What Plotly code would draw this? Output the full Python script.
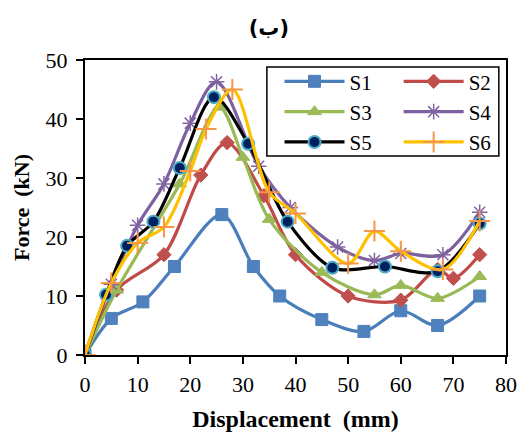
import plotly.graph_objects as go

x1 = [0, 5, 11, 17, 26, 32, 37, 45, 53, 60, 67, 75]
s1 = [0, 6.2, 9, 15, 23.8, 15, 10, 6, 4, 7.5, 5, 10]

x2 = [0, 6, 15, 22, 27, 34, 40, 50, 60, 67, 70, 75]
s2 = [0, 11, 17, 30.5, 36, 27, 17, 10, 9.3, 14.5, 13, 17]

x3 = [0, 6, 18, 25.5, 30, 35, 45, 55, 60, 67, 75]
s3 = [0, 11, 29, 42, 33.5, 23, 14, 10.2, 11.8, 9.6, 13.3]

x4 = [0, 5, 10, 15, 20, 25, 33, 39, 48, 55, 60, 68, 75]
s4 = [0, 12, 22, 29, 39.3, 46.3, 32, 25, 18.3, 16, 17.2, 17, 24.2]

x5 = [0, 4, 8, 13, 18, 24.5, 31, 38.5, 47, 57, 67, 75]
s5 = [0, 10.2, 18.5, 22.6, 31.7, 43.7, 35.8, 22.6, 14.8, 15, 14.2, 22.3]

x6 = [0, 5, 10, 15, 20, 23, 28, 35, 40, 50, 55, 60, 68, 75]
s6 = [0, 12.2, 19, 21.7, 31.2, 38.3, 45, 27.6, 24, 15.5, 21, 17.6, 14.5, 22.7]

names = ["S1", "S2", "S3", "S4", "S5", "S6"]

FONT = "Liberation Serif, Times New Roman, serif"

fig = go.Figure()

def add(x, y, name, lc, sym, mfill, mline, mlw, size, leg):
    fig.add_trace(go.Scatter(
        x=x, y=y, name=name, mode="lines+markers", legend=leg,
        line=dict(color=lc, width=3.2, shape="spline", smoothing=0.9),
        marker=dict(symbol=sym, color=mfill, size=size,
                    line=dict(color=mline, width=mlw)),
    ))

add(x1, s1, names[0], "#4A7EBB", "square", "#4F81BD", "#4F81BD", 1, 12, "legend")
add(x2, s2, names[1], "#BE4B48", "diamond", "#C0504D", "#C0504D", 1, 11, "legend2")
add(x3, s3, names[2], "#98B954", "triangle-up", "#9BBB59", "#9BBB59", 1, 12, "legend")
add(x4, s4, names[3], "#7D60A0", "asterisk-open", "#8064A2", "#8064A2", 1.5, 13, "legend2")
add(x5, s5, names[4], "#000000", "circle", "#002060", "#4BACC6", 2, 12, "legend")
add(x6, s6, names[5], "#FFC000", "cross-thin-open", "#F79646", "#F79646", 2, 15, "legend2")

axis_common = dict(
    showgrid=False, zeroline=False, showline=True, linecolor="black",
    linewidth=2, mirror=True, ticks="outside", ticklen=7, tickwidth=2,
    tickcolor="black", tickfont=dict(family=FONT, size=22, color="black"),
    automargin=False,
)

leg_common = dict(orientation="v", yanchor="top", xanchor="left",
                  borderwidth=0, bgcolor="rgba(0,0,0,0)", itemwidth=60,
                  font=dict(family=FONT, size=21, color="black"))

fig.update_layout(
    width=519, height=437,
    margin=dict(l=85, r=13, t=60, b=82, autoexpand=False),
    paper_bgcolor="white", plot_bgcolor="white",
    title=dict(text="<b>(ب)</b>", x=0.518, xanchor="center", y=0.937, yanchor="middle",
               font=dict(family="DejaVu Sans", size=21, color="black")),
    xaxis=dict(range=[0, 80], dtick=10, tick0=0, ticklabelstandoff=2,
               title=dict(text="<b>Displacement  (mm)</b>", standoff=14,
                          font=dict(family=FONT, size=24, color="black")),
               **axis_common),
    yaxis=dict(range=[0, 50], dtick=10, tick0=0, ticklabelstandoff=4,
               title=dict(text="<b>Force  (kN)</b>", standoff=10,
                          font=dict(family=FONT, size=22, color="black")),
               **axis_common),
    legend=dict(x=0.462, y=0.996, **leg_common),
    legend2=dict(x=0.745, y=0.996, **leg_common),
    shapes=[dict(type="rect", xref="paper", yref="paper",
                 x0=0.432, x1=0.983, y0=0.675, y1=0.976,
                 line=dict(color="black", width=1.5), fillcolor="white",
                 layer="above")],
    showlegend=True,
)

fig.write_html("out.html")
